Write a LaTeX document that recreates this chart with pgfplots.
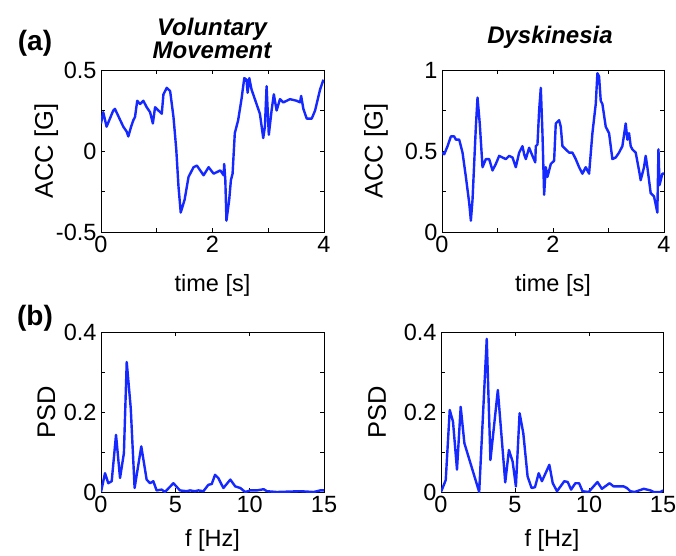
\documentclass[border=0pt]{standalone}
\usepackage{fontspec}
\setmainfont{Liberation Sans}
\usepackage{pgfplots}
\pgfplotsset{compat=1.18}
\definecolor{mblue}{RGB}{20,40,255}
\begin{document}
\begin{tikzpicture}
\path[use as bounding box] (0,0) rectangle (676pt,555pt);
\pgfplotsset{
  every axis/.append style={
    scale only axis,
    anchor=south west,
    font=\fontsize{23.5}{27}\selectfont,
    axis line style={line width=0.9pt},
    major tick length=4pt,
    every tick/.style={black, line width=0.7pt},
    tick align=inside,
    xticklabel style={yshift=-1pt},
    yticklabel style={xshift=-1pt},
  },
  sig/.style={mblue, line width=2.4pt, line join=round},
  xlab/.style={xlabel style={at={(axis description cs:0.5,#1)}, anchor=center}},
  ylab/.style={ylabel style={at={(axis description cs:#1,0.5)}, anchor=center,
    font=\fontsize{25.5}{29}\selectfont}},
}

% (a) voluntary movement
\begin{axis}[
  at={(101pt,323pt)}, width=223pt, height=162pt,
  xmin=0, xmax=4, ymin=-0.5, ymax=0.5,
  xtick={0,1,2,3,4}, xticklabels={0,,2,,4},
  ytick={-0.5,-0.25,0,0.25,0.5}, yticklabels={-0.5,,0,,0.5},
  xlabel={time [s]}, ylabel={ACC [G]}, xlab=-0.33, ylab=-0.245,
]
\addplot[sig] coordinates {
(0,0.17) (0.04,0.24) (0.10,0.15) (0.22,0.25) (0.25,0.26) (0.40,0.15)
(0.46,0.12) (0.49,0.09) (0.54,0.15) (0.58,0.19) (0.61,0.21) (0.65,0.31)
(0.70,0.29) (0.76,0.31) (0.82,0.27) (0.88,0.24) (0.93,0.17) (0.97,0.27)
(1.03,0.25) (1.09,0.23) (1.12,0.35) (1.18,0.39) (1.24,0.37) (1.30,0.21)
(1.35,0.01) (1.39,-0.22) (1.43,-0.38) (1.50,-0.30) (1.57,-0.16) (1.66,-0.10)
(1.72,-0.09) (1.78,-0.12) (1.84,-0.15) (1.93,-0.10) (2.02,-0.14) (2.14,-0.12)
(2.20,-0.15) (2.21,-0.08) (2.23,-0.18) (2.25,-0.43) (2.30,-0.30) (2.33,-0.18)
(2.36,-0.14) (2.40,0.11) (2.46,0.19) (2.52,0.32) (2.57,0.45) (2.61,0.44)
(2.63,0.36) (2.66,0.45) (2.70,0.38) (2.76,0.32) (2.85,0.23) (2.91,0.08)
(2.94,0.15) (2.97,0.40) (3.01,0.10) (3.06,0.25) (3.10,0.35) (3.15,0.25)
(3.21,0.32) (3.27,0.30) (3.39,0.32) (3.51,0.31) (3.57,0.30) (3.59,0.34)
(3.63,0.26) (3.69,0.20) (3.78,0.20) (3.84,0.25) (3.93,0.38) (3.99,0.44)
};
\end{axis}

% (a) dyskinesia
\begin{axis}[
  at={(442pt,323pt)}, width=222pt, height=162pt,
  xmin=0, xmax=4, ymin=0, ymax=1,
  xtick={0,1,2,3,4}, xticklabels={0,,2,,4},
  ytick={0,0.25,0.5,0.75,1}, yticklabels={0,,0.5,,1},
  xlabel={time [s]}, ylabel={ACC [G]}, xlab=-0.33, ylab=-0.297,
]
\addplot[sig] coordinates {
(0,0.49) (0.04,0.48) (0.10,0.53) (0.16,0.59) (0.22,0.59) (0.25,0.57)
(0.31,0.57) (0.37,0.49) (0.43,0.34) (0.49,0.18) (0.52,0.07) (0.55,0.20)
(0.61,0.65) (0.64,0.83) (0.68,0.67) (0.73,0.40) (0.79,0.45) (0.85,0.45)
(0.91,0.38) (0.97,0.42) (1.03,0.47) (1.09,0.46) (1.15,0.45) (1.21,0.47)
(1.27,0.46) (1.33,0.40) (1.39,0.49) (1.45,0.53) (1.48,0.48) (1.51,0.45)
(1.57,0.52) (1.63,0.47) (1.68,0.43) (1.69,0.53) (1.72,0.54) (1.75,0.75)
(1.78,0.89) (1.81,0.61) (1.84,0.23) (1.87,0.40) (1.90,0.34) (1.96,0.42)
(2.02,0.44) (2.05,0.67) (2.11,0.69) (2.14,0.65) (2.17,0.53) (2.23,0.51)
(2.29,0.49) (2.35,0.49) (2.41,0.45) (2.47,0.40) (2.53,0.36) (2.59,0.40)
(2.65,0.36) (2.71,0.61) (2.77,0.79) (2.80,0.98) (2.83,0.96) (2.86,0.81)
(2.89,0.79) (2.95,0.65) (3.01,0.61) (3.07,0.45) (3.13,0.46) (3.19,0.49)
(3.25,0.53) (3.31,0.67) (3.34,0.57) (3.37,0.61) (3.40,0.53) (3.43,0.51)
(3.49,0.49) (3.55,0.38) (3.58,0.32) (3.64,0.40) (3.67,0.47) (3.70,0.40)
(3.76,0.24) (3.82,0.22) (3.88,0.12) (3.90,0.51) (3.92,0.29) (3.97,0.36)
(4.00,0.36)
};
\end{axis}

% (b) voluntary movement
\begin{axis}[
  at={(101pt,63pt)}, width=223pt, height=160pt,
  xmin=0, xmax=15, ymin=0, ymax=0.4,
  xtick={0,5,10,15}, xticklabels={0,5,10,15},
  ytick={0,0.1,0.2,0.3,0.4}, yticklabels={0,,0.2,,0.4},
  xlabel={f [Hz]}, ylabel={PSD}, xlab=-0.30, ylab=-0.245,
]
\addplot[sig] coordinates {
(0,0) (0.27,0.047) (0.49,0.022) (0.72,0.027) (1.01,0.143) (1.28,0.035)
(1.54,0.097) (1.73,0.325) (2.00,0.21) (2.26,0.010) (2.71,0.114) (3.07,0.031)
(3.30,0.022) (3.52,0.027) (3.74,0.004) (4.08,0.006) (4.30,0) (4.87,0.022)
(5.31,0.004) (5.76,0.002) (5.99,0.004) (6.32,0.002) (6.55,0.004) (6.89,0.002)
(7.22,0.018) (7.45,0.020) (7.67,0.043) (7.89,0.035) (8.23,0.010) (8.70,0.031)
(9.03,0.014) (9.37,0.010) (9.70,0) (10.04,0.004) (10.49,0.004) (10.94,0.007)
(11.16,0.002) (11.83,0) (13.40,0.002) (14.30,0) (14.75,0.004) (15,0.004)
};
\end{axis}

% (b) dyskinesia
\begin{axis}[
  at={(441pt,63pt)}, width=222pt, height=160pt,
  xmin=0, xmax=15, ymin=0, ymax=0.4,
  xtick={0,5,10,15}, xticklabels={0,5,10,15},
  ytick={0,0.1,0.2,0.3,0.4}, yticklabels={0,,0.2,,0.4},
  xlabel={f [Hz]}, ylabel={PSD}, xlab=-0.30, ylab=-0.288,
]
\addplot[sig] coordinates {
(0,0) (0.32,0.030) (0.59,0.205) (0.81,0.176) (1.08,0.056) (1.33,0.213)
(1.58,0.122) (2.58,0) (3.09,0.383) (3.34,0.080) (3.84,0.255) (4.34,0.024)
(4.59,0.105) (4.84,0.076) (5.06,0.014) (5.31,0.197) (5.56,0.147) (5.85,0.039)
(6.12,0.010) (6.35,0.012) (6.60,0.047) (6.82,0.027) (7.32,0.068) (7.55,0.022)
(7.84,0.002) (8.33,0.027) (8.56,0.025) (8.79,0.006) (9.08,0.022) (9.33,0.022)
(9.56,0.002) (9.97,0) (10.57,0.025) (10.87,0.008) (11.39,0.022) (11.66,0.014)
(12.34,0.014) (12.56,0.010) (12.79,0.002) (13.08,0) (13.70,0.008) (14.15,0.004)
(14.38,0) (14.83,0) (15,0.004)
};
\end{axis}

% titles and panel letters
\node[font=\fontsize{24}{27}\selectfont\bfseries\itshape, align=center] at (212pt,517pt) {Voluntary\\[-4pt]Movement};
\node[font=\fontsize{24}{27}\selectfont\bfseries\itshape] at (550pt,518pt) {Dyskinesia};
\node[font=\fontsize{28}{32}\selectfont\bfseries] at (35pt,512pt) {(a)};
\node[font=\fontsize{28}{32}\selectfont\bfseries] at (35pt,237pt) {(b)};
\end{tikzpicture}
\end{document}
